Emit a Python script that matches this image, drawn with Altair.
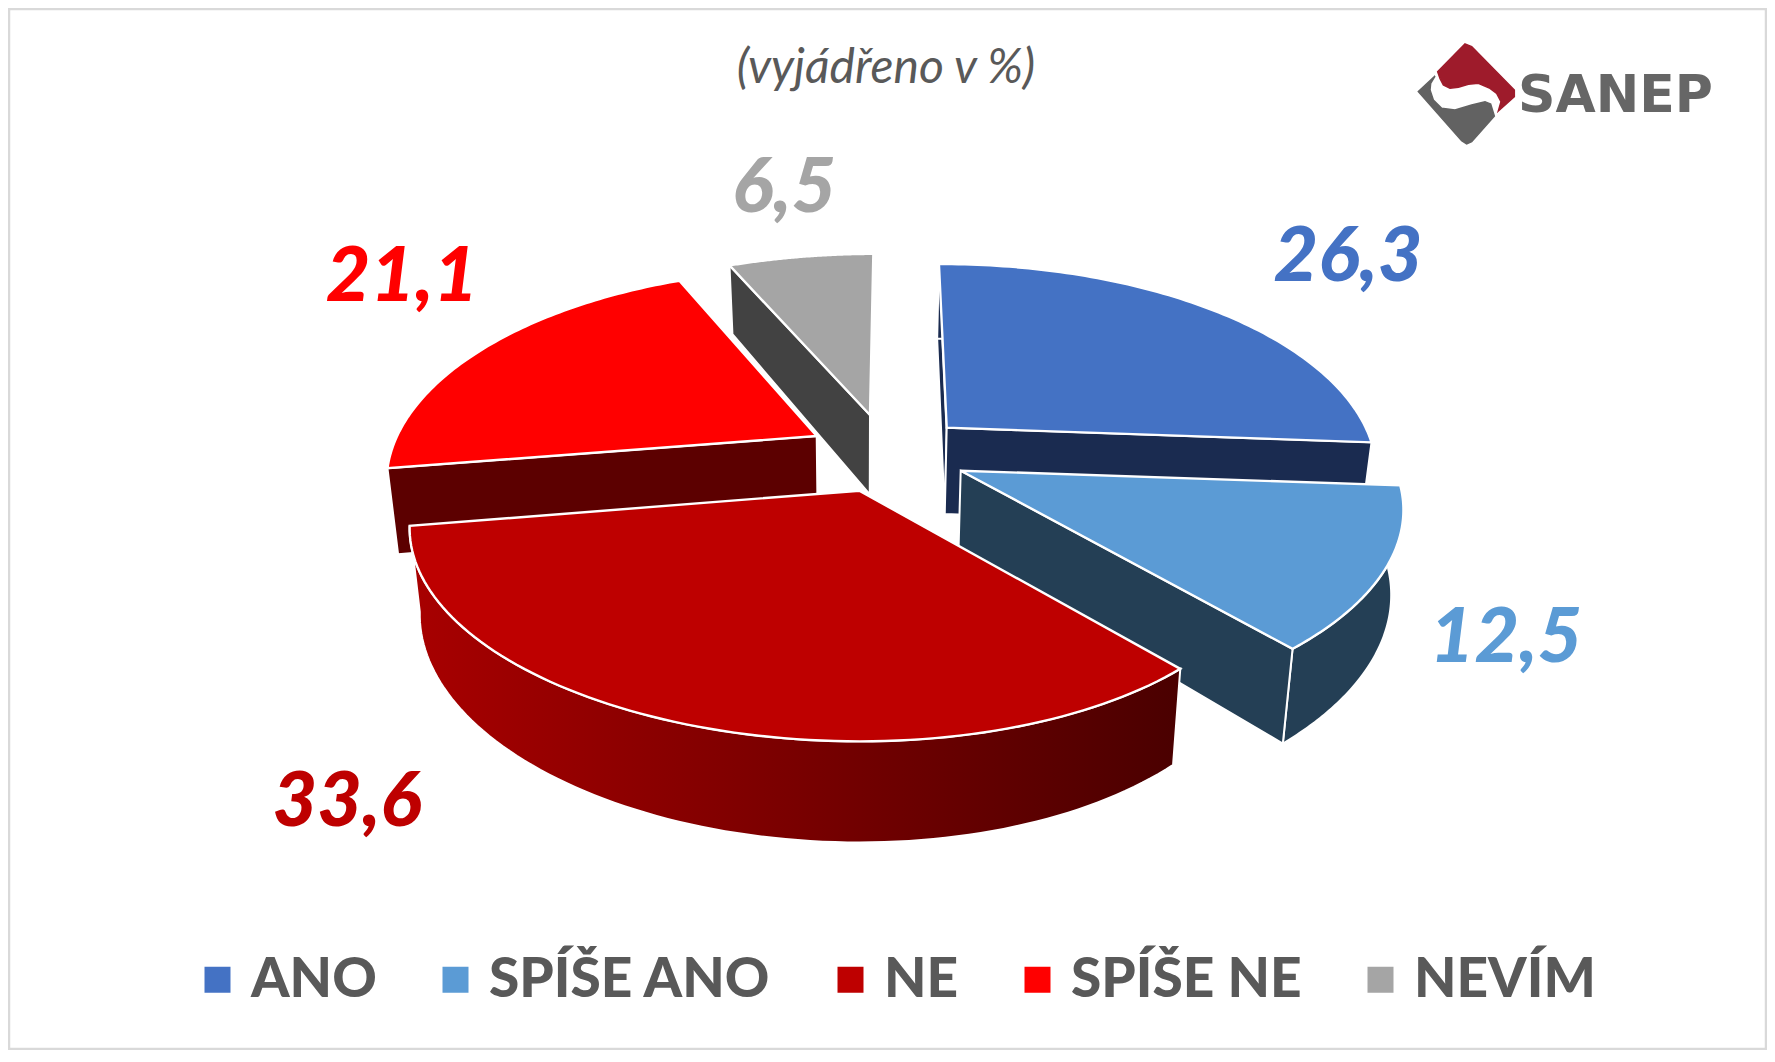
import numpy as np
import pandas as pd
import altair as alt

# --- chart content ---
categories = ["ANO", "SPÍŠE ANO", "NE", "SPÍŠE NE", "NEVÍM"]
values = [26.3, 12.5, 33.6, 21.1, 6.5]
top_colors = ["#4472C4", "#5B9BD5", "#BE0000", "#FF0000", "#A5A5A5"]
wall_colors = ["#1A2B50", "#243F55", "#A80000", "#5C0000", "#424242"]
title_text = "(vyjádřeno v %)"
logo_text = "SANEP"
TEXT_GREY = "#595959"

# --- layout of the exploded, tilted pie (reference pixels) ---
W0, W1, H0, H1 = 8, 1767, 8, 1050
START_ANGLE = -0.5
PERSP = 0.21
apex = {"ANO": (946.7, 427.7), "SPÍŠE ANO": (960.7, 470.7), "NE": (859.3, 490.7),
        "SPÍŠE NE": (816.7, 436.0), "NEVÍM": (870.0, 415.0)}
radius = {"ANO": (419, 419), "SPÍŠE ANO": (434, 427), "NE": (413, 440),
          "SPÍŠE NE": (420, 404), "NEVÍM": (431, 431)}
depth_k = {"ANO": 198, "SPÍŠE ANO": 198, "NE": 198, "SPÍŠE NE": 201, "NEVÍM": 195}
skew = {"ANO": 0.029, "SPÍŠE ANO": 0.0, "NE": 0.0, "SPÍŠE NE": 0.0, "NEVÍM": -0.04}
tilt = {"ANO": 0.0, "SPÍŠE ANO": 0.0, "NE": 0.0, "SPÍŠE NE": 0.008, "NEVÍM": 0.0}
extra_depth = {"ANO": 7, "SPÍŠE ANO": 0, "NE": 0, "SPÍŠE NE": 4, "NEVÍM": 1}
label_pos = {"ANO": (1348, 281), "SPÍŠE ANO": (1506, 662), "NE": (347, 826),
             "SPÍŠE NE": (402, 301), "NEVÍM": (784, 212)}
LOGO_RED = [(195, 42), (215, 50), (343, 180), (343, 200), (295, 243), (303, 215), (290, 190), (270, 175),
            (235, 160), (205, 163), (175, 172), (150, 175), (130, 165), (120, 145), (113, 125)]
LOGO_GREY = [(55, 185), (105, 138), (92, 160), (90, 180), (100, 210), (125, 235), (165, 240),
             (215, 225), (255, 215), (272, 222), (283, 258), (215, 335), (200, 342), (185, 332)]

angles = {}
a = START_ANGLE
for c, v in zip(categories, values):
    angles[c] = (a, a + v * 3.6)
    a += v * 3.6


def rim(cat, n=90):
    t0, t1 = angles[cat]
    r0, r1 = radius[cat]
    ax, ay = apex[cat]
    th = np.linspace(t0, t1, n)
    rr = np.linspace(r0, r1, n)
    u, v = np.sin(np.radians(th)), -np.cos(np.radians(th))
    s = 1 / (1 - PERSP * v)
    dy = depth_k[cat] * v * s
    dx = rr * u * s + skew[cat] * dy
    return ax + dx, ay + dy + tilt[cat] * dx


def lower(x, y, cat):
    return x - (x - 860) * 0.0225, y + 68 + (y - 268) * 0.07 + extra_depth[cat]


def frame(x, y):
    return pd.DataFrame({"x": x, "y": y, "i": np.arange(len(x))})


xs = alt.Scale(domain=[W0, W1])
ys = alt.Scale(domain=[H1, H0])
X = alt.X("x:Q", scale=xs, axis=None)
Y = alt.Y("y:Q", scale=ys, axis=None)
order = alt.Order("i:Q")
cat_scale = alt.Scale(domain=categories, range=top_colors)
legend = alt.Legend(
    title=None, orient="none", legendX=182, legendY=944, direction="horizontal", columns=5,
    symbolType="square", symbolSize=676, symbolStrokeWidth=0, symbolOpacity=1,
    labelFont="Lato", labelFontWeight=900, labelFontSize=55, labelColor=TEXT_GREY,
    labelOffset=6, columnPadding=51, labelLimit=600, padding=0,
)


def polygon(df, fill, sw=2.0):
    return alt.Chart(df).mark_line(filled=True, interpolate="linear-closed", fill=fill,
                                   stroke="white", strokeWidth=sw).encode(x=X, y=Y, order=order)


def radial_wall(cat, end):
    rx, ry = rim(cat)
    px, py = (rx[-1], ry[-1]) if end else (rx[0], ry[0])
    ax, ay = apex[cat]
    ux = np.array([ax, px])
    uy = np.array([ay, py])
    lx, ly = lower(ux, uy, cat)
    return frame(np.r_[ux, lx[::-1]], np.r_[uy, ly[::-1]])


def arc_wall(cat):
    rx, ry = rim(cat)
    lx, ly = lower(rx, ry, cat)
    return frame(np.r_[rx, lx[::-1]], np.r_[ry, ly[::-1]])


def top_face(cat):
    rx, ry = rim(cat)
    ax, ay = apex[cat]
    df = frame(np.r_[ax, rx], np.r_[ay, ry])
    df["cat"] = cat
    return alt.Chart(df).mark_line(filled=True, interpolate="linear-closed", stroke="white",
                                   strokeWidth=2.4).encode(
        x=X, y=Y, order=order,
        fill=alt.Fill("cat:N", scale=cat_scale, legend=legend, sort=categories),
    )


wall = dict(zip(categories, wall_colors))
red_gradient = alt.Gradient(
    gradient="linear", x1=0, x2=1, y1=0, y2=0,
    stops=[alt.GradientStop(color="#A80000", offset=0),
           alt.GradientStop(color="#4A0000", offset=1)],
)

layers = []
# page frame
frame_df = pd.DataFrame({"x": [W0 + 1], "x2": [W1 - 1], "y": [H0 + 1], "y2": [H1 - 1]})
layers.append(alt.Chart(frame_df).mark_rect(filled=False, stroke="#D9D9D9", strokeWidth=2.5).encode(
    x=X, x2="x2:Q", y=Y, y2="y2:Q"))

# back to front
layers += [polygon(radial_wall("NEVÍM", False), wall["NEVÍM"]), top_face("NEVÍM")]
layers += [polygon(radial_wall("ANO", False), wall["ANO"]), polygon(arc_wall("ANO"), wall["ANO"]),
           polygon(radial_wall("ANO", True), wall["ANO"]), top_face("ANO")]
layers += [polygon(radial_wall("SPÍŠE NE", False), wall["SPÍŠE NE"]), top_face("SPÍŠE NE")]
layers += [polygon(arc_wall("SPÍŠE ANO"), wall["SPÍŠE ANO"]),
           polygon(radial_wall("SPÍŠE ANO", True), wall["SPÍŠE ANO"]), top_face("SPÍŠE ANO")]
layers += [polygon(arc_wall("NE"), red_gradient), top_face("NE")]

# value labels
lab_df = pd.DataFrame({
    "cat": categories,
    "txt": [f"{v:.1f}".replace(".", ",") for v in values],
    "x": [label_pos[c][0] for c in categories],
    "y": [label_pos[c][1] for c in categories],
})
layers.append(alt.Chart(lab_df).mark_text(
    font="Lato", fontStyle="italic", fontWeight=900, fontSize=77, align="center", baseline="alphabetic"
).encode(x=X, y=Y, text="txt:N", fill=alt.Fill("cat:N", scale=cat_scale, legend=legend)))

# subtitle
layers.append(alt.Chart(pd.DataFrame({"x": [886], "y": [83], "t": [title_text]})).mark_text(
    font="Lato", fontStyle="italic", fontSize=48, color=TEXT_GREY, align="center", baseline="alphabetic"
).encode(x=X, y=Y, text="t:N"))

# logo
for pts, col in [(LOGO_RED, "#9E1B2B"), (LOGO_GREY, "#626262")]:
    arr = np.array(pts, dtype=float)
    layers.append(alt.Chart(frame(arr[:, 0] / 3 + 1400, arr[:, 1] / 3 + 30)).mark_line(
        filled=True, interpolate="linear-closed", fill=col, stroke=col, strokeWidth=1.5
    ).encode(x=X, y=Y, order=order))
layers.append(alt.Chart(pd.DataFrame({"x": [1518], "y": [112], "t": [logo_text]})).mark_text(
    font="DejaVu Sans", fontWeight="bold", fontSize=52, color="#666666", align="left", baseline="alphabetic"
).encode(x=X, y=Y, text="t:N"))

chart = alt.layer(*layers).properties(
    width=W1 - W0, height=H1 - H0, padding=0,
    autosize=alt.AutoSizeParams(type="none"), background="white",
).configure_view(stroke=None)

chart.save("out.html", embed_options={"renderer": "svg", "actions": False})
